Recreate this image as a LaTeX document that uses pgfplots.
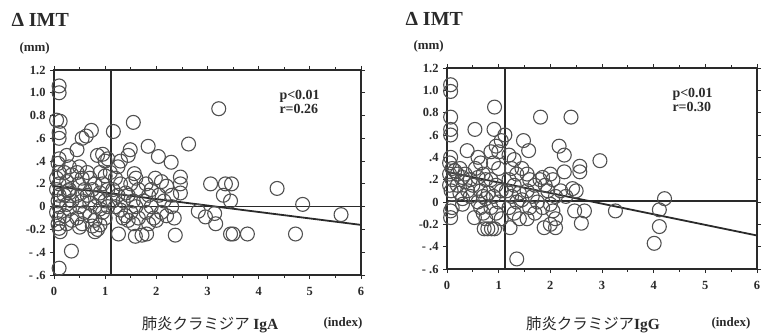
\documentclass[border=0pt]{standalone}
\usepackage{pgfplots}
\pgfplotsset{compat=1.18}
\usepackage{fontspec}
\setmainfont{Liberation Serif}
\newfontfamily\cjk{Noto Sans CJK JP}
\definecolor{ink}{HTML}{2A2A2A}
\definecolor{circ}{HTML}{505050}

\pgfplotsset{
  myax/.style={
    scale only axis, xmin=0, xmax=6, ymin=-0.6, ymax=1.2,
    xtick={0,1,2,3,4,5,6}, xticklabels={0,1,2,3,4,5,6}, minor x tick num=1,
    ytick={-0.6,-0.4,-0.2,0,0.2,0.4,0.6,0.8,1.0,1.2},
    yticklabels={- .6,- .4,-0.2,0,.2,.4,.6,0.8,1.0,1.2},
    tick align=outside, major tick length=4bp, minor tick length=2.5bp,
    axis line style={ink, line width=1.2pt},
    every tick/.style={ink, line width=0.8pt},
    tick label style={font=\bfseries\fontsize{12.5}{14}\selectfont, text=ink},
    xticklabel style={yshift=-5bp},
    yticklabel style={xshift=-1bp},
    /pgf/number format/assume math mode=true,
  },
  pts/.style={only marks, mark=o, mark size=7pt, circ, mark options={line width=1.1pt}},
  thick line/.style={ink, line width=1.8pt},
}

\begin{document}
\begin{tikzpicture}
\useasboundingbox (0,0) rectangle (780bp,334bp);

% ---------- left panel ----------
\begin{axis}[myax, width=307bp, height=205bp, at={(54bp,59bp)}, anchor=south west]
\addplot[pts] coordinates {
(0.1,1.06)(0.1,1.0)(0.05,0.76)(0.12,0.75)(0.1,0.65)(0.1,0.6)(0.1,0.42)(0.08,0.38)(0.1,0.3)(0.05,0.25)
(0.1,0.2)(0.05,0.15)(0.1,0.1)(0.08,0.05)(0.1,0.0)(0.05,-0.05)(0.1,-0.1)(0.08,-0.15)(0.1,-0.19)(0.12,-0.22)(0.1,-0.54)
(0.25,0.45)(0.3,0.35)(0.2,0.3)(0.35,0.28)(0.25,0.22)(0.3,0.15)(0.28,0.14)(0.3,0.12)(0.2,0.1)(0.35,0.05)
(0.25,0.02)(0.3,-0.02)(0.2,-0.08)(0.35,-0.12)(0.25,-0.15)(0.34,-0.39)
(0.45,0.5)(0.55,0.6)(0.5,0.35)(0.45,0.3)(0.55,0.25)(0.48,0.2)(0.6,0.15)(0.45,0.1)(0.55,0.05)(0.5,0.0)
(0.6,-0.05)(0.45,-0.1)(0.55,-0.15)(0.5,-0.18)
(0.63,0.62)(0.73,0.67)(0.65,0.3)(0.7,0.25)(0.8,0.2)(0.75,0.15)(0.65,0.1)(0.85,0.08)(0.7,0.03)(0.8,0.0)
(0.9,-0.02)(0.7,-0.08)(0.8,-0.12)(0.75,-0.17)(0.85,-0.2)(0.9,-0.16)(0.8,-0.22)
(0.85,0.45)(0.95,0.46)(1.0,0.4)(0.9,0.3)(1.0,0.27)(0.95,0.2)(1.05,0.15)(0.9,0.12)(1.0,0.05)(1.05,0.0)
(0.95,-0.05)(1.0,-0.1)(1.1,0.3)(1.05,0.42)
(1.16,0.66)(1.3,0.4)(1.25,0.35)(1.2,0.25)(1.3,0.2)(1.15,0.15)(1.25,0.1)(1.35,0.05)(1.2,0.0)(1.3,-0.03)
(1.15,0.05)(1.4,0.12)(1.35,-0.1)(1.26,-0.24)(1.4,-0.08)
(1.55,0.74)(1.49,0.5)(1.45,0.45)(1.57,0.29)(1.6,0.25)(1.5,0.2)(1.65,0.15)(1.45,0.1)(1.55,0.05)(1.6,0.0)
(1.5,-0.05)(1.65,-0.1)(1.55,-0.15)(1.59,-0.26)(1.72,-0.25)(1.45,-0.12)
(1.84,0.53)(1.8,0.2)(1.85,0.1)(1.75,0.05)(1.9,0.0)(1.8,-0.05)(1.95,-0.1)(1.85,-0.15)(1.81,-0.24)(1.98,0.25)(1.9,0.15)
(2.04,0.44)(2.29,0.39)(2.1,0.22)(2.2,0.18)(2.05,0.1)(2.15,0.05)(2.3,0.1)(2.1,-0.05)(2.2,-0.08)(2.35,-0.1)
(2.0,-0.12)(2.47,0.26)(2.47,0.2)(2.47,0.12)(2.37,-0.25)(2.3,0.0)
(2.63,0.55)(3.22,0.86)(3.06,0.2)(3.35,0.2)(3.47,0.2)(3.31,0.1)(3.45,0.05)(4.36,0.16)(4.86,0.02)(5.61,-0.07)
(4.72,-0.24)(3.78,-0.24)(3.45,-0.24)(3.5,-0.24)(2.82,-0.04)(2.96,-0.09)(3.14,-0.06)(3.16,-0.15)
};
\addplot[ink, line width=1.3pt] coordinates {(0,0.0) (6,0.0)};
\addplot[thick line] coordinates {(1.12,-0.6) (1.12,1.2)};
\addplot[thick line] coordinates {(0,0.18) (6,-0.16)};
\end{axis}

% ---------- right panel ----------
\begin{axis}[myax, width=310bp, height=201bp, at={(447bp,65bp)}, anchor=south west]
\addplot[pts] coordinates {
(0.07,1.05)(0.07,0.99)(0.07,0.76)(0.07,0.65)(0.07,0.6)(0.07,0.4)(0.05,0.35)(0.1,0.3)(0.05,0.25)(0.1,0.2)
(0.05,0.15)(0.08,0.1)(0.07,-0.08)(0.07,-0.14)(0.1,-0.05)
(0.15,0.28)(0.2,0.25)(0.25,0.3)(0.3,0.22)(0.2,0.15)(0.35,0.18)(0.25,0.08)(0.3,0.03)(0.4,0.1)(0.45,0.2)
(0.39,0.46)(0.35,0.25)(0.45,0.05)(0.3,-0.02)
(0.54,0.65)(0.6,0.4)(0.65,0.35)(0.55,0.3)(0.6,0.22)(0.7,0.25)(0.5,0.15)(0.65,0.1)(0.7,0.05)(0.6,0.0)
(0.75,0.03)(0.8,0.08)(0.53,-0.14)(0.7,-0.1)(0.65,-0.05)(0.75,0.2)(0.75,-0.15)
(0.92,0.85)(0.91,0.65)(0.95,0.5)(0.85,0.45)(0.9,0.35)(1.0,0.3)(0.85,0.2)(0.95,0.15)(1.05,0.1)(0.9,0.05)
(1.0,0.0)(0.85,-0.05)(0.95,-0.1)(1.05,-0.15)(0.72,-0.24)(0.79,-0.24)(0.86,-0.24)(0.92,-0.24)(1.0,0.45)(1.05,0.55)
(1.12,0.6)(1.2,0.42)(1.3,0.38)(1.25,0.3)(1.35,0.25)(1.2,0.2)(1.3,0.15)(1.15,0.1)(1.4,0.08)(1.25,0.05)
(1.35,0.0)(1.2,-0.05)(1.3,-0.1)(1.4,-0.15)(1.22,-0.23)(1.35,-0.51)(1.48,0.55)(1.45,0.3)(1.45,0.02)
(1.58,0.46)(1.55,0.25)(1.6,0.2)(1.7,0.15)(1.55,0.1)(1.65,0.05)(1.75,0.0)(1.6,-0.05)(1.7,-0.1)(1.55,-0.15)
(1.81,0.76)(1.8,0.2)(1.85,0.22)(1.9,0.15)(1.88,-0.23)(1.85,-0.05)
(2.0,0.25)(2.05,0.2)(1.95,0.1)(2.1,0.05)(2.0,-0.02)(2.05,-0.08)(2.1,-0.15)(2.1,-0.23)(2.17,0.5)(2.27,0.42)
(2.27,0.27)(2.2,0.1)(2.3,0.05)(2.0,-0.2)
(2.4,0.76)(2.57,0.32)(2.57,0.27)(2.43,0.12)(2.5,0.1)(2.47,-0.08)(2.66,-0.08)(2.6,-0.19)(2.96,0.37)(3.26,-0.08)
(4.21,0.03)(4.11,-0.07)(4.11,-0.22)(4.01,-0.37)
};
\addplot[ink, line width=1.3pt] coordinates {(0,0.01) (6,0.01)};
\addplot[thick line] coordinates {(1.12,-0.6) (1.12,1.2)};
\addplot[thick line] coordinates {(0,0.27) (6,-0.30)};
\end{axis}

% ---------- texts ----------
\node[text=ink, font=\bfseries\fontsize{20}{22}\selectfont, anchor=west] at (8bp,314bp) {Δ IMT};
\node[text=ink, font=\bfseries\fontsize{13}{15}\selectfont, anchor=west] at (16bp,286bp) {(mm)};
\node[text=ink, font=\bfseries\fontsize{20}{22}\selectfont, anchor=west] at (402bp,315bp) {Δ IMT};
\node[text=ink, font=\bfseries\fontsize{13}{15}\selectfont, anchor=west] at (410bp,288bp) {(mm)};

\node[text=ink, font=\bfseries\fontsize{14}{16}\selectfont, anchor=west, align=left] at (276bp,232bp) {p<0.01\\[-2pt]r=0.26};
\node[text=ink, font=\bfseries\fontsize{14}{16}\selectfont, anchor=west, align=left] at (669bp,234bp) {p<0.01\\[-2pt]r=0.30};

\node[text=ink, font=\cjk\fontsize{15.5}{18}\selectfont, anchor=base, inner sep=0pt] at (210bp,5bp) {肺炎クラミジア {\rmfamily\bfseries IgA}};
\node[text=ink, font=\cjk\fontsize{15.5}{18}\selectfont, anchor=base, inner sep=0pt] at (593bp,5bp) {肺炎クラミジア{\rmfamily\bfseries IgG}};
\node[text=ink, font=\bfseries\fontsize{13}{15}\selectfont, anchor=base west] at (320bp,8bp) {(index)};
\node[text=ink, font=\bfseries\fontsize{13}{15}\selectfont, anchor=base west] at (708bp,8bp) {(index)};
\end{tikzpicture}
\end{document}
